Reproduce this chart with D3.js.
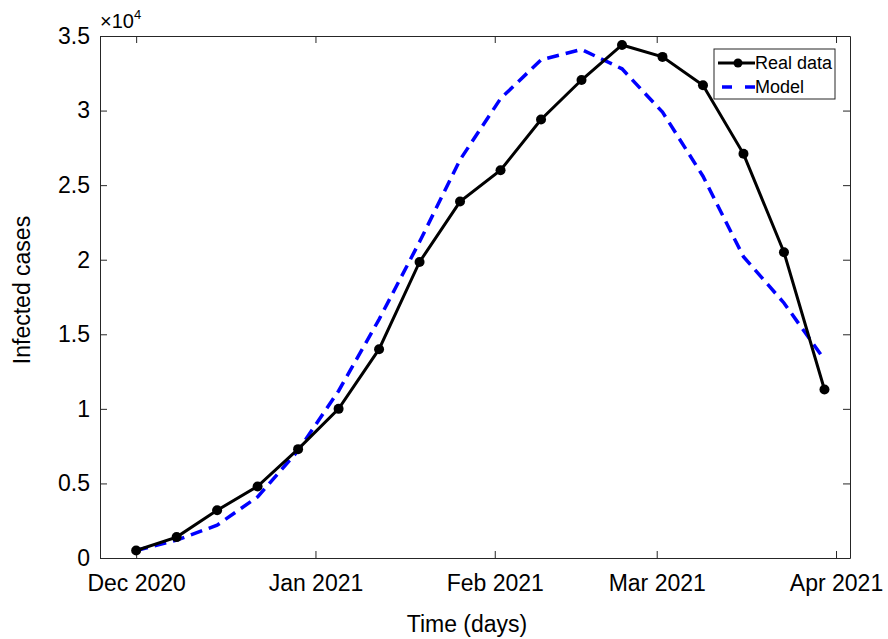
<!DOCTYPE html>
<html>
<head>
<meta charset="utf-8">
<script src="https://cdn.jsdelivr.net/npm/d3@7"></script>
<style>
  body { margin: 0; background: #fff; }
  text { font-family: "Liberation Sans", Arial, sans-serif; fill: #000; }
</style>
</head>
<body>
<svg id="chart" width="888" height="639"></svg>
<script>
'use strict';

// Weekly sample dates (days after 1 Dec 2020)
var dayOffsets = [0, 7, 14, 21, 28, 35, 42, 49, 56, 63, 70, 77, 84, 91, 98, 105, 112, 119];

// Values in units of 10^4 cases
var realData = [0.05, 0.14, 0.32, 0.48, 0.73, 1.00, 1.40, 1.985, 2.39, 2.60, 2.94, 3.205, 3.44, 3.36, 3.17, 2.71, 2.05, 1.13];
var modelData = [0.05, 0.12, 0.22, 0.41, 0.72, 1.12, 1.60, 2.12, 2.67, 3.08, 3.34, 3.41, 3.28, 2.99, 2.56, 2.02, 1.71, 1.33];

var xTickDates = ['2020-12-01', '2021-01-01', '2021-02-01', '2021-03-01', '2021-04-01'];
var yTicks = [0, 0.5, 1, 1.5, 2, 2.5, 3, 3.5];

var legendItems = ['Real data', 'Model'];

(function () {
    var svg = d3.select('#chart');

    var mLeft = 100, mRight = 850, mTop = 36, mBottom = 558;

    var start = new Date(2020, 11, 1);
    function dayToDate(d) {
        return d3.timeDay.offset(start, d);
    }

    var x = d3.scaleTime()
        .domain([new Date(2020, 10, 24, 18), new Date(2021, 3, 3, 10)])
        .range([mLeft, mRight]);

    var y = d3.scaleLinear()
        .domain([0, 3.5])
        .range([mBottom, mTop]);

    var tickDates = xTickDates.map(function (s) {
        var p = s.split('-');
        return new Date(+p[0], +p[1] - 1, +p[2]);
    });

    var monthFmt = d3.timeFormat('%b %Y');

    // Axes (MATLAB-style box with inward ticks on all sides)
    var axisColor = '#262626';

    function styleAxis(g) {
        g.select('.domain').attr('stroke', axisColor);
        g.selectAll('.tick line').attr('stroke', axisColor);
        g.selectAll('.tick text').attr('font-size', 23).attr('font-family', '"Liberation Sans", Arial, sans-serif').attr('fill', '#000');
    }

    svg.append('g')
        .attr('transform', 'translate(0,' + mBottom + ')')
        .call(d3.axisBottom(x).tickValues(tickDates).tickFormat(monthFmt).tickSizeInner(-7).tickSizeOuter(0).tickPadding(17))
        .call(styleAxis);

    svg.append('g')
        .attr('transform', 'translate(0,' + mTop + ')')
        .call(d3.axisTop(x).tickValues(tickDates).tickFormat('').tickSizeInner(-7).tickSizeOuter(0))
        .call(styleAxis);

    svg.append('g')
        .attr('transform', 'translate(' + mLeft + ',0)')
        .call(d3.axisLeft(y).tickValues(yTicks).tickFormat(d3.format('~g')).tickSizeInner(-7).tickSizeOuter(0).tickPadding(10))
        .call(styleAxis);

    svg.append('g')
        .attr('transform', 'translate(' + mRight + ',0)')
        .call(d3.axisRight(y).tickValues(yTicks).tickFormat('').tickSizeInner(-7).tickSizeOuter(0))
        .call(styleAxis);

    // Exponent label
    var expLabel = svg.append('text')
        .attr('x', 100)
        .attr('y', 28)
        .attr('font-size', 20);
    expLabel.append('tspan').text('\u00d710');
    expLabel.append('tspan').attr('dy', -9).attr('font-size', 13).text('4');

    // Axis titles
    svg.append('text')
        .attr('x', 467)
        .attr('y', 632)
        .attr('text-anchor', 'middle')
        .attr('font-size', 23)
        .text('Time (days)');

    svg.append('text')
        .attr('transform', 'translate(30,290) rotate(-90)')
        .attr('text-anchor', 'middle')
        .attr('font-size', 23)
        .text('Infected cases');

    // Series
    var line = d3.line()
        .x(function (d) { return x(dayToDate(d[0])); })
        .y(function (d) { return y(d[1]); });

    var realPts = dayOffsets.map(function (d, i) { return [d, realData[i]]; });
    var modelPts = dayOffsets.map(function (d, i) { return [d, modelData[i]]; });

    svg.append('path')
        .datum(modelPts)
        .attr('d', line)
        .attr('fill', 'none')
        .attr('stroke', '#0000ff')
        .attr('stroke-width', 3.5)
        .attr('stroke-dasharray', '12,7');

    svg.append('path')
        .datum(realPts)
        .attr('d', line)
        .attr('fill', 'none')
        .attr('stroke', '#000')
        .attr('stroke-width', 3);

    svg.append('g')
        .selectAll('circle')
        .data(realPts)
        .join('circle')
        .attr('cx', function (d) { return x(dayToDate(d[0])); })
        .attr('cy', function (d) { return y(d[1]); })
        .attr('r', 5)
        .attr('fill', '#000');

    // Legend
    var legend = svg.append('g').attr('transform', 'translate(714,49)');

    legend.append('rect')
        .attr('width', 121)
        .attr('height', 50)
        .attr('fill', '#fff')
        .attr('stroke', '#262626')
        .attr('stroke-width', 1);

    legendItems.forEach(function (name, i) {
        var ly = 14 + i * 24;
        var row = legend.append('g');
        row.append('line')
            .attr('x1', i === 0 ? 4 : 8).attr('x2', 41)
            .attr('y1', ly).attr('y2', ly)
            .attr('stroke', i === 0 ? '#000' : '#0000ff')
            .attr('stroke-width', i === 0 ? 3 : 3.5)
            .attr('stroke-dasharray', i === 0 ? null : '10,13');
        if (i === 0) {
            row.append('circle').attr('cx', 24).attr('cy', ly).attr('r', 4.5).attr('fill', '#000');
        }
        row.append('text')
            .attr('x', 41)
            .attr('y', ly + 6)
            .attr('font-size', 18)
            .text(name);
    });
})();
</script>
</body>
</html>
